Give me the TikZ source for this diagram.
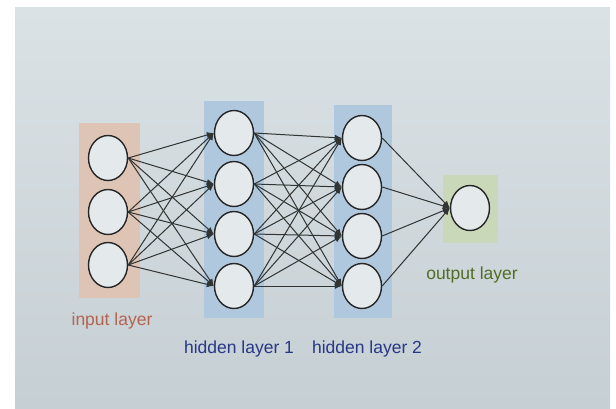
\documentclass[tikz,border=0pt]{standalone}
\usepackage{fontspec}
\setmainfont{Liberation Sans}
\usetikzlibrary{shapes.geometric,arrows.meta}
\definecolor{bgtop}{RGB}{218,226,230}
\definecolor{bgbot}{RGB}{198,207,211}
\definecolor{salmon}{RGB}{222,196,180}
\definecolor{hblue}{RGB}{176,200,222}
\definecolor{ogreen}{RGB}{202,216,186}
\definecolor{nodefill}{RGB}{228,233,236}
\definecolor{edgecol}{RGB}{48,52,50}
\definecolor{intext}{RGB}{180,100,80}
\definecolor{hidtext}{RGB}{40,55,135}
\definecolor{outtext}{RGB}{80,110,38}
\tikzset{
  neuron/.style={ellipse, draw=black!85, line width=1.4pt, fill=nodefill,
    minimum width=39pt, minimum height=45pt, inner sep=0pt},
  conn/.style={draw=edgecol, line width=1pt, -{Latex[length=7pt,width=6pt]}},
  lab/.style={font=\fontsize{17.5}{20}\selectfont, inner sep=0pt}
}
\begin{document}
\begin{tikzpicture}[x=1pt,y=-1pt]
\useasboundingbox (0,0) rectangle (616,408);
\fill[white] (0,0) rectangle (616,408);
\shade[top color=bgtop, bottom color=bgbot] (15,7) rectangle (610,408);
% layer backgrounds
\fill[salmon] (79,123) rectangle (140,298);
\fill[hblue] (204,101) rectangle (264,318);
\fill[hblue] (334,105) rectangle (392,318);
\fill[ogreen] (443,175) rectangle (498,243);
% neurons
\node[neuron] (i1) at (108,158) {};
\node[neuron] (i2) at (108,212) {};
\node[neuron] (i3) at (108,265) {};
\node[neuron] (a1) at (234,133) {};
\node[neuron] (a2) at (234,184) {};
\node[neuron] (a3) at (234,234) {};
\node[neuron] (a4) at (234,286) {};
\node[neuron] (b1) at (362,138) {};
\node[neuron] (b2) at (362,187) {};
\node[neuron] (b3) at (362,236) {};
\node[neuron] (b4) at (362,286) {};
\node[neuron] (o1) at (470,208) {};
% connections
\foreach \s in {i1,i2,i3}{\foreach \t in {a1,a2,a3,a4}{\draw[conn] (\s.east) -- (\t.west);}}
\foreach \s in {a1,a2,a3,a4}{\foreach \t in {b1,b2,b3,b4}{\draw[conn] (\s.east) -- (\t.west);}}
\foreach \s in {b1,b2,b3,b4}{\draw[conn] (\s.east) -- (o1.west);}
% labels
\node[lab, text=intext] (li) at (112,321) {input layer};
\node[lab, text=hidtext] (lh1) at (239,349) {hidden layer 1};
\node[lab, text=hidtext] (lh2) at (367,349) {hidden layer 2};
\node[lab, text=outtext] (lo) at (472,275) {output layer};
\end{tikzpicture}
\end{document}
